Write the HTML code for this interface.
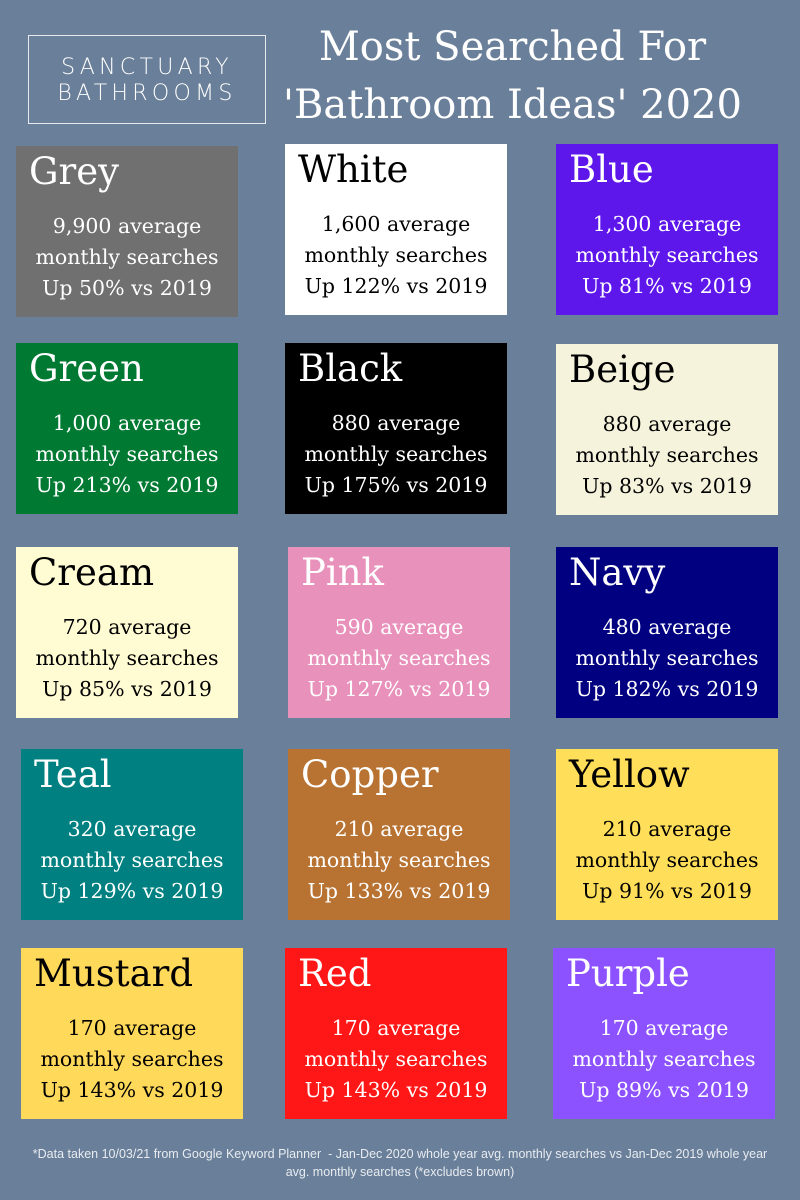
<!DOCTYPE html>
<html><head><meta charset="utf-8"><style>
body{margin:0;width:800px;height:1200px;background:#6a7f99;position:relative;overflow:hidden;font-family:"DejaVu Serif","Liberation Serif",serif;}
.logo{position:absolute;left:28px;top:35px;width:238px;height:89px;border:1.5px solid #e6e9ee;color:#fff;font-family:"DejaVu Sans","Liberation Sans",sans-serif;font-weight:300;font-size:22px;letter-spacing:4.3px;text-align:center;line-height:26px;box-sizing:border-box;padding-top:19px}
.title{position:absolute;left:280px;width:465px;top:18px;color:#fff;text-align:center;font-size:40px;line-height:58px}
.b{position:absolute;width:222px;height:171px}
.n{position:absolute;left:13px;top:7px;font-size:37px;line-height:38px}
.t{position:absolute;left:0;right:0;top:65px;text-align:center;font-size:20.5px;line-height:31px}
.w{color:#fff}.k{color:#000}
.foot{position:absolute;left:0;right:0;top:1145px;text-align:center;color:#e8ecf1;font-family:"Liberation Sans",sans-serif;font-size:12.5px;line-height:18px}
</style></head><body>
<div class="logo">SANCTUARY<br>BATHROOMS</div>
<div class="title">Most Searched For<br>'Bathroom Ideas' 2020</div>

<div class="b w" style="left:16px;top:146px;background:#707070"><div class="n">Grey</div><div class="t">9,900 average<br>monthly searches<br>Up 50% vs 2019</div></div>
<div class="b k" style="left:285px;top:144px;background:#fff"><div class="n">White</div><div class="t">1,600 average<br>monthly searches<br>Up 122% vs 2019</div></div>
<div class="b w" style="left:556px;top:144px;background:#5e17eb"><div class="n">Blue</div><div class="t">1,300 average<br>monthly searches<br>Up 81% vs 2019</div></div>

<div class="b w" style="left:16px;top:343px;background:#007a33"><div class="n">Green</div><div class="t">1,000 average<br>monthly searches<br>Up 213% vs 2019</div></div>
<div class="b w" style="left:285px;top:343px;background:#000"><div class="n">Black</div><div class="t">880 average<br>monthly searches<br>Up 175% vs 2019</div></div>
<div class="b k" style="left:556px;top:344px;background:#f5f3dc"><div class="n">Beige</div><div class="t">880 average<br>monthly searches<br>Up 83% vs 2019</div></div>

<div class="b k" style="left:16px;top:547px;background:#fffbd2"><div class="n">Cream</div><div class="t">720 average<br>monthly searches<br>Up 85% vs 2019</div></div>
<div class="b w" style="left:288px;top:547px;background:#e891bb"><div class="n">Pink</div><div class="t">590 average<br>monthly searches<br>Up 127% vs 2019</div></div>
<div class="b w" style="left:556px;top:547px;background:#000080"><div class="n">Navy</div><div class="t">480 average<br>monthly searches<br>Up 182% vs 2019</div></div>

<div class="b w" style="left:21px;top:749px;background:#008080"><div class="n">Teal</div><div class="t">320 average<br>monthly searches<br>Up 129% vs 2019</div></div>
<div class="b w" style="left:288px;top:749px;background:#b87333"><div class="n">Copper</div><div class="t">210 average<br>monthly searches<br>Up 133% vs 2019</div></div>
<div class="b k" style="left:556px;top:749px;background:#ffde59"><div class="n">Yellow</div><div class="t">210 average<br>monthly searches<br>Up 91% vs 2019</div></div>

<div class="b k" style="left:21px;top:948px;background:#ffd95a"><div class="n">Mustard</div><div class="t">170 average<br>monthly searches<br>Up 143% vs 2019</div></div>
<div class="b w" style="left:285px;top:948px;background:#ff1616"><div class="n">Red</div><div class="t">170 average<br>monthly searches<br>Up 143% vs 2019</div></div>
<div class="b w" style="left:553px;top:948px;background:#8c52ff"><div class="n">Purple</div><div class="t">170 average<br>monthly searches<br>Up 89% vs 2019</div></div>

<div class="foot">*Data taken 10/03/21 from Google Keyword Planner &nbsp;- Jan-Dec 2020 whole year avg. monthly searches vs Jan-Dec 2019 whole year<br>avg. monthly searches (*excludes brown)</div>
</body></html>
